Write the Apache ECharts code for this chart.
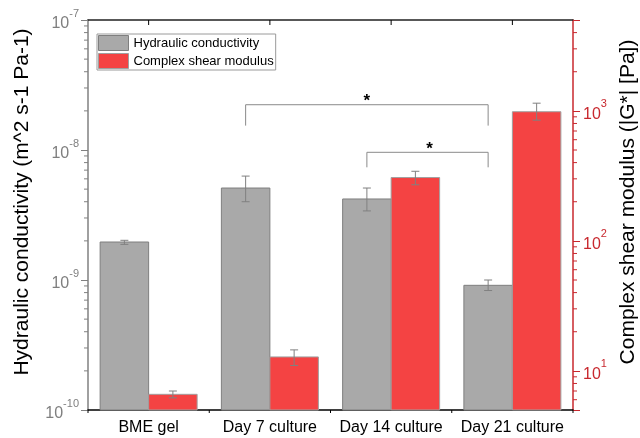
<!DOCTYPE html>
<html>
<head>
<meta charset="utf-8">
<script src="https://cdn.jsdelivr.net/npm/echarts@6/dist/echarts.min.js"></script>
<style>
html,body{margin:0;padding:0;background:#fff;}
#c{width:640px;height:438px;}
</style>
</head>
<body>
<div id="c"></div>
<script>
// ---- data ----
var categories = ['BME gel', 'Day 7 culture', 'Day 14 culture', 'Day 21 culture'];
var hydraulic = [1.96e-9, 5.1e-9, 4.2e-9, 9.1e-10];
var hydraulicLow = [1.88e-9, 4.0e-9, 3.4e-9, 8.3e-10];
var hydraulicHigh = [2.02e-9, 6.3e-9, 5.1e-9, 1.0e-9];
var shear = [6.6, 12.8, 307, 985];
var shearLow = [6.2, 11.0, 270, 848];
var shearHigh = [7.0, 14.5, 343, 1146];
var leftMin = 1e-10, leftMax = 1e-7;
var rightMin = 5, rightMax = 5000;
var leftMinorTicks = [2e-10,3e-10,4e-10,5e-10,6e-10,7e-10,8e-10,9e-10,2e-9,3e-9,4e-9,5e-9,6e-9,7e-9,8e-9,9e-9,2e-8,3e-8,4e-8,5e-8,6e-8,7e-8,8e-8,9e-8];
var rightMinorTicks = [6,7,8,9,20,30,40,50,60,70,80,90,200,300,400,500,600,700,800,900,2000,3000,4000];
// significance brackets: from category, to category, bracket level, leg end (left axis units)
var bracketFrom = [1, 2];
var bracketTo = [3, 3];
var bracketLevel = [2.23e-8, 9.6e-9];
var bracketLegEnd = [1.54e-8, 7.36e-9];
var bracketLabel = ['*', '*'];

var GRAY = '#a9a9a9', GRAY_BORDER = '#7f7f7f';
var RED = '#f44343', RED_BORDER = '#a0a0a0';
var AXIS_RED = '#c8282e';
var FONT = '"Liberation Sans", Arial, sans-serif';
var BAR_FRAC = 0.4;

var chart = echarts.init(document.getElementById('c'), null, {renderer: 'canvas'});

function expFormatter(v) {
  var e = Math.log10(v);
  var r = Math.round(e);
  if (Math.abs(e - r) > 1e-6) return '';
  return '{b|10}{s|' + r + '}';
}

function barRender(side, minVal) {
  return function (params, api) {
    var i = api.value(0), v = api.value(1);
    var top = api.coord([i, v]);
    var base = api.coord([i, minVal]);
    var bw = api.size([1, 0])[0] * BAR_FRAC;
    var x = side < 0 ? top[0] - bw : top[0];
    return {
      type: 'rect',
      shape: {x: x, y: top[1], width: bw, height: base[1] - top[1]},
      style: api.style()
    };
  };
}

function errRender(side, color) {
  return function (params, api) {
    var i = api.value(0);
    var lo = api.coord([i, api.value(1)]);
    var hi = api.coord([i, api.value(2)]);
    var bw = api.size([1, 0])[0] * BAR_FRAC;
    var x = lo[0] + side * bw / 2;
    var cap = 4;
    var st = {stroke: color, lineWidth: 1};
    return {
      type: 'group',
      children: [
        {type: 'line', shape: {x1: x, y1: lo[1], x2: x, y2: hi[1]}, style: st},
        {type: 'line', shape: {x1: x - cap, y1: lo[1], x2: x + cap, y2: lo[1]}, style: st},
        {type: 'line', shape: {x1: x - cap, y1: hi[1], x2: x + cap, y2: hi[1]}, style: st}
      ]
    };
  };
}

function minorTickRender(side, color, len) {
  return function (params, api) {
    var cs = params.coordSys;
    var y = api.coord([0, api.value(1)])[1];
    var x0 = side < 0 ? cs.x : cs.x + cs.width;
    return {
      type: 'line',
      shape: {x1: x0, y1: y, x2: x0 + side * len, y2: y},
      style: {stroke: color, lineWidth: 1}
    };
  };
}

// extra category ticks: bottom boundaries (outward) and top centres (inward)
function catTickRender(params, api) {
  var cs = params.coordSys;
  var i = api.value(0);
  var c = api.coord([i, leftMin])[0];
  var band = api.size([1, 0])[0];
  var children = [];
  var yb = cs.y + cs.height, yt = cs.y;
  var st = {stroke: '#000', lineWidth: 1};
  children.push({type: 'line', shape: {x1: c - band / 2, y1: yb, x2: c - band / 2, y2: yb + 3}, style: st});
  if (i === categories.length - 1) {
    children.push({type: 'line', shape: {x1: c + band / 2, y1: yb, x2: c + band / 2, y2: yb + 3}, style: st});
  }
  children.push({type: 'line', shape: {x1: c, y1: yt, x2: c, y2: yt + 5}, style: st});
  return {type: 'group', children: children};
}

function bracketRender(params, api) {
  var idx = params.dataIndex;
  var a = api.value(0), b = api.value(1);
  var bw = api.size([1, 0])[0] * BAR_FRAC;
  var pa = api.coord([a, api.value(2)]);
  var pb = api.coord([b, api.value(2)]);
  var ea = api.coord([a, api.value(3)]);
  var xa = pa[0] - bw / 2, xb = pb[0] - bw / 2;
  var st = {stroke: '#8a8a8a', lineWidth: 1, fill: null};
  return {
    type: 'group',
    children: [
      {type: 'polyline', shape: {points: [[xa, ea[1]], [xa, pa[1]], [xb, pa[1]], [xb, ea[1]]]}, style: st},
      {type: 'text', x: (xa + xb) / 2 + (idx === 1 ? 2 : 0), y: pa[1] - 3,
        style: {text: bracketLabel[idx], fill: '#000', font: 'bold 17px ' + FONT, align: 'center', verticalAlign: 'middle'}}
    ]
  };
}

var catIdx = categories.map(function (c, i) { return i; });

var option = {
  animation: false,
  backgroundColor: '#fff',
  grid: {left: 88, right: 67, top: 20, bottom: 28, containLabel: false},
  legend: {
    orient: 'vertical', left: 97, top: 34,
    itemWidth: 30, itemHeight: 15, itemGap: 2,
    padding: [1, 2, 1, 1],
    borderColor: '#9a9a9a', borderWidth: 1,
    textStyle: {fontSize: 13, color: '#000', fontFamily: FONT},
    data: [
      {name: 'Hydraulic conductivity', icon: 'rect', itemStyle: {color: GRAY, borderColor: GRAY_BORDER, borderWidth: 1}},
      {name: 'Complex shear modulus', icon: 'rect', itemStyle: {color: RED, borderColor: RED_BORDER, borderWidth: 1}}
    ]
  },
  xAxis: [{
    type: 'category', data: categories, position: 'bottom',
    axisLine: {lineStyle: {color: '#000', width: 1.5}},
    axisTick: {alignWithLabel: true, length: 5, lineStyle: {color: '#000'}},
    axisLabel: {color: '#000', fontSize: 16, fontFamily: FONT, margin: 10, interval: 0},
    splitLine: {show: false}
  }, {
    type: 'category', data: categories, position: 'top',
    axisLine: {lineStyle: {color: '#222', width: 1.5}},
    axisTick: {inside: true, length: 5, lineStyle: {color: '#000'}},
    axisLabel: {show: false},
    splitLine: {show: false}
  }],
  yAxis: [{
    type: 'log', logBase: 10, min: leftMin, max: leftMax, position: 'left',
    axisLine: {show: true, lineStyle: {color: '#808080', width: 1.5}},
    axisTick: {show: true, length: 7, lineStyle: {color: '#808080'}},
    axisLabel: {
      formatter: expFormatter, margin: 9,
      rich: {
        b: {fontSize: 16, color: '#7f7f7f', fontFamily: FONT, lineHeight: 24, verticalAlign: 'bottom'},
        s: {fontSize: 11, color: '#7f7f7f', fontFamily: FONT, lineHeight: 10, verticalAlign: 'top'}
      }
    },
    splitLine: {show: false}
  }, {
    type: 'log', logBase: 10, min: rightMin, max: rightMax, position: 'right',
    axisLine: {show: true, lineStyle: {color: AXIS_RED, width: 1.5}},
    axisTick: {show: true, length: 7, lineStyle: {color: AXIS_RED}},
    axisLabel: {
      formatter: expFormatter, margin: 10,
      rich: {
        b: {fontSize: 16, color: AXIS_RED, fontFamily: FONT, lineHeight: 24, verticalAlign: 'bottom'},
        s: {fontSize: 11, color: AXIS_RED, fontFamily: FONT, lineHeight: 10, verticalAlign: 'top'}
      }
    },
    splitLine: {show: false}
  }],
  graphic: [
    {type: 'text', x: 22, y: 202, rotation: Math.PI / 2,
      style: {text: 'Hydraulic conductivity (m^2 s-1 Pa-1)', font: '21px ' + FONT, fill: '#000', align: 'center', verticalAlign: 'middle'}},
    {type: 'text', x: 628, y: 202, rotation: Math.PI / 2,
      style: {text: 'Complex shear modulus (|G*| [Pa])', font: '21px ' + FONT, fill: '#000', align: 'center', verticalAlign: 'middle'}}
  ],
  series: [
    {
      name: 'Hydraulic conductivity', type: 'custom', xAxisIndex: 0, yAxisIndex: 0,
      itemStyle: {color: GRAY, borderColor: GRAY_BORDER, borderWidth: 1},
      renderItem: barRender(-1, leftMin),
      encode: {x: 0, y: 1},
      data: catIdx.map(function (i) { return [i, hydraulic[i]]; }),
      z: 2
    },
    {
      name: 'Complex shear modulus', type: 'custom', xAxisIndex: 0, yAxisIndex: 1,
      itemStyle: {color: RED, borderColor: RED_BORDER, borderWidth: 1},
      renderItem: barRender(1, rightMin),
      encode: {x: 0, y: 1},
      data: catIdx.map(function (i) { return [i, shear[i]]; }),
      z: 2
    },
    {
      name: 'hc-err', type: 'custom', xAxisIndex: 0, yAxisIndex: 0,
      renderItem: errRender(-1, '#808080'),
      encode: {x: 0, y: [1, 2]},
      data: catIdx.map(function (i) { return [i, hydraulicLow[i], hydraulicHigh[i]]; }),
      z: 3
    },
    {
      name: 'sm-err', type: 'custom', xAxisIndex: 0, yAxisIndex: 1,
      renderItem: errRender(1, '#808080'),
      encode: {x: 0, y: [1, 2]},
      data: catIdx.map(function (i) { return [i, shearLow[i], shearHigh[i]]; }),
      z: 3
    },
    {
      name: 'left-minor', type: 'custom', xAxisIndex: 0, yAxisIndex: 0,
      renderItem: minorTickRender(-1, '#808080', 4),
      encode: {x: 0, y: 1},
      data: leftMinorTicks.map(function (v) { return [0, v]; }),
      z: 5
    },
    {
      name: 'right-minor', type: 'custom', xAxisIndex: 0, yAxisIndex: 1,
      renderItem: minorTickRender(1, AXIS_RED, 4),
      encode: {x: 0, y: 1},
      data: rightMinorTicks.map(function (v) { return [0, v]; }),
      z: 5
    },
    {
      name: 'cat-ticks', type: 'custom', xAxisIndex: 0, yAxisIndex: 0,
      renderItem: catTickRender,
      encode: {x: 0, y: 1},
      data: catIdx.map(function (i) { return [i, leftMin]; }),
      z: 5
    },
    {
      name: 'brackets', type: 'custom', xAxisIndex: 0, yAxisIndex: 0,
      renderItem: bracketRender,
      encode: {x: [0, 1], y: [2, 3]},
      data: bracketFrom.map(function (a, k) { return [a, bracketTo[k], bracketLevel[k], bracketLegEnd[k]]; }),
      z: 4
    }
  ]
};
chart.setOption(option);
</script>
</body>
</html>
